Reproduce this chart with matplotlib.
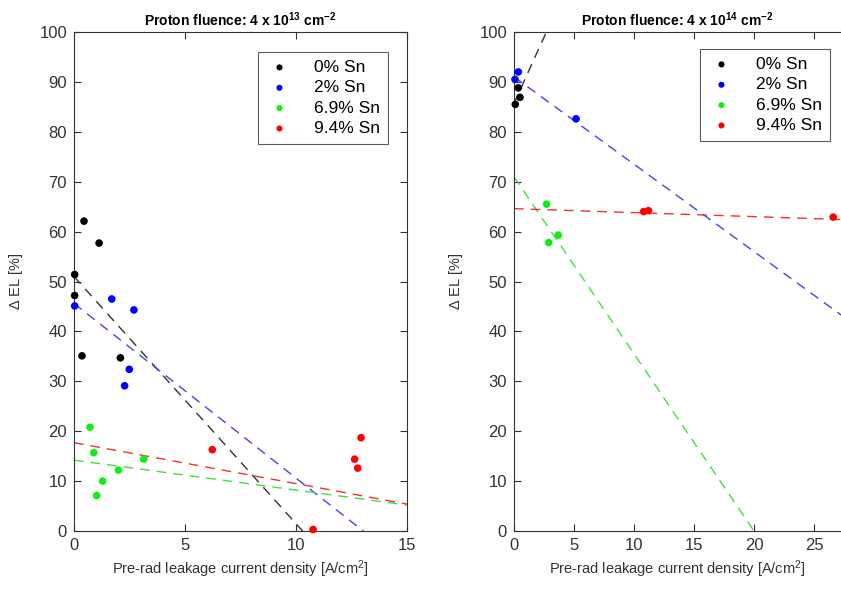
import matplotlib
matplotlib.use("Agg")
import matplotlib.pyplot as plt
import numpy as np

plt.rcParams['font.family'] = ['Liberation Sans', 'DejaVu Sans']
plt.rcParams['mathtext.default'] = 'regular'

labels = ["0% Sn", "2% Sn", "6.9% Sn", "9.4% Sn"]
colors = ["#000000", "#0000ff", "#11ee11", "#ff0000"]
line_colors = ["#333333", "#4444dd", "#44dd44", "#ee3333"]

# fluence 4e13
x13 = [
    [0.03, 0.03, 0.45, 1.13, 0.36, 2.09],
    [0.03, 1.7, 2.7, 2.49, 2.28],
    [0.72, 0.89, 3.14, 2.0, 1.29, 1.02],
    [6.23, 12.93, 12.64, 12.78, 10.77],
]
y13 = [
    [51.4, 47.2, 62.1, 57.7, 35.1, 34.7],
    [45.1, 46.5, 44.3, 32.4, 29.1],
    [20.8, 15.7, 14.4, 12.2, 10.0, 7.1],
    [16.3, 18.7, 14.4, 12.6, 0.3],
]
fit13_x = [0, 15]
fit13_y = [
    [51.0, -23.3],
    [45.6, -6.9],
    [14.2, 5.2],
    [17.7, 5.4],
]

# fluence 4e14
x14 = [
    [0.36, 0.5, 0.11],
    [0.36, 0.08, 5.17],
    [2.72, 3.69, 2.89],
    [10.8, 11.2, 26.6],
]
y14 = [
    [88.8, 86.9, 85.5],
    [92.0, 90.5, 82.6],
    [65.5, 59.3, 57.8],
    [64.0, 64.2, 62.9],
]
fit14_x = [0, 30]
fit14_y = [
    [85.7, 244.7],
    [91.0, 38.5],
    [71.0, -35.5],
    [64.6, 62.2],
]

W, H = 841, 594
fig = plt.figure(figsize=(W / 100, H / 100), dpi=100)

ax1 = fig.add_axes([74 / W, 1 - 531 / H, 333 / W, 499 / H])
ax2 = fig.add_axes([514 / W, 1 - 531 / H, 327 / W, 499 / H])


def draw(ax, xs, ys, fx, fys, xlim, xticks, title, leg_anchor):
    for i in range(4):
        ax.plot(fx, fys[i], color=line_colors[i], lw=1.0, dashes=(7, 5), zorder=2)
    for i in range(4):
        ax.scatter(xs[i], ys[i], s=30, color=colors[i], edgecolors='none',
                   label=labels[i], zorder=3, clip_on=False)
    ax.set_xlim(*xlim)
    ax.set_ylim(0, 100)
    ax.set_xticks(xticks)
    ax.set_yticks(np.arange(0, 101, 10))
    ax.tick_params(direction='in', top=True, right=True, labelsize=12,
                   length=5, width=0.8, colors='#333333', pad=5)
    for s in ax.spines.values():
        s.set_color('#333333')
        s.set_linewidth(0.8)
    ax.set_title(title, fontsize=10, fontweight='bold', pad=4)
    ax.set_xlabel("Pre-rad leakage current density [A/cm$^2$]", fontsize=10.5,
                  color='#333333', labelpad=4)
    ax.set_ylabel("$\\Delta$ EL [%]", fontsize=10.5, color='#333333', labelpad=10)
    leg = ax.legend(loc='upper right', bbox_to_anchor=leg_anchor,
                    bbox_transform=fig.transFigure, borderaxespad=0,
                    fontsize=12.5, frameon=True, fancybox=False, markerscale=0.8,
                    handletextpad=1.2, labelspacing=0.3, borderpad=0.45,
                    handlelength=1.6)
    leg.get_frame().set_edgecolor('#333333')
    leg.get_frame().set_linewidth(0.8)


draw(ax1, x13, y13, fit13_x, fit13_y, (0, 15), [0, 5, 10, 15],
     "Proton fluence: 4 x 10$^{13}$ cm$^{-2}$", (388 / W, 1 - 52 / H))
draw(ax2, x14, y14, fit14_x, fit14_y, (0, 27.25), [0, 5, 10, 15, 20, 25],
     "Proton fluence: 4 x 10$^{14}$ cm$^{-2}$", (830 / W, 1 - 49 / H))
ax2.spines['right'].set_visible(False)
ax2.tick_params(right=False)

fig.savefig("out.png", dpi=100)
